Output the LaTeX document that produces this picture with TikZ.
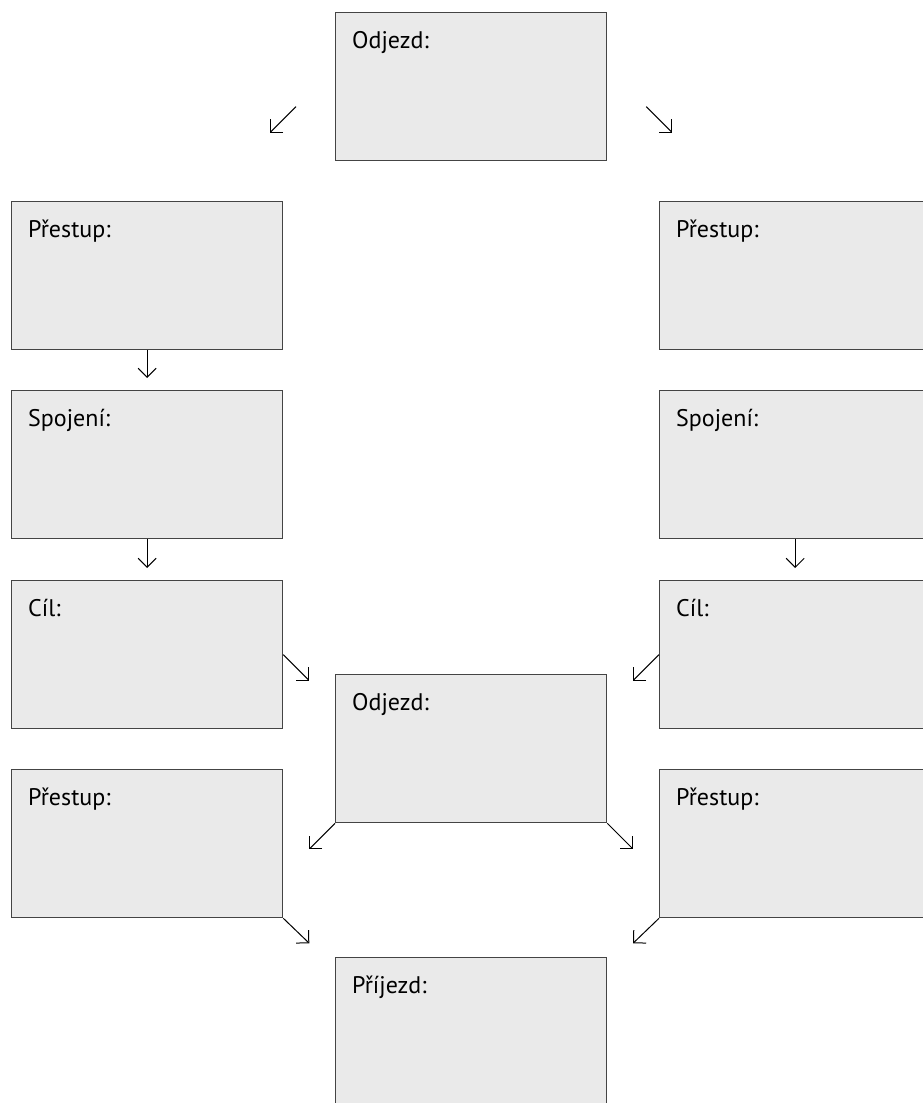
\documentclass[tikz,border=0pt]{standalone}
\usepackage{fontspec}
\setmainfont{PT Sans}
\usetikzlibrary{arrows.meta}

\definecolor{boxfill}{HTML}{EAEAEA}
\definecolor{boxline}{HTML}{444444}

\tikzset{
	stop/.style={draw=boxline, fill=boxfill, line width=1.3pt, inner sep=0pt,
		minimum width=271pt, minimum height=148pt, anchor=north west,
		label={[anchor=base west, inner sep=0pt, xshift=17pt, yshift=-36pt,
			font=\fontsize{24}{28}\selectfont]north west:#1}},
	arr/.style={-{Straight Barb[length=9pt, width=18pt, line width=1pt]}, line width=1pt, black}
}

\begin{document}
\begin{tikzpicture}[x=1pt, y=-1pt]
				\useasboundingbox (0,0) rectangle (923,1103);
				
				% start
				\node[stop={Odjezd:}] (odjezdA) at (335,12) {};
				
				% left branch
				\node[stop={Přestup:}] (prestupL) at (11,201) {};
				\node[stop={Spojení:}] (spojeniL) at (11,390) {};
				\node[stop={Cíl:}] (cilL) at (11,580) {};
				\node[stop={Přestup:}] (prestupLL) at (11,769) {};
				
				% right branch
				\node[stop={Přestup:}] (prestupR) at (659,201) {};
				\node[stop={Spojení:}] (spojeniR) at (659,390) {};
				\node[stop={Cíl:}] (cilR) at (659,580) {};
				\node[stop={Přestup:}] (prestupRR) at (659,769) {};
				
				% second departure and arrival
				\node[stop={Odjezd:}] (odjezdB) at (335,674) {};
				\node[stop={Příjezd:}] (prijezd) at (335,957) {};
				
				% arrows
				\draw[arr] ([shift={(-39,20)}]odjezdA.west) -- ++(-26,26);
				\draw[arr] ([shift={(39,20)}]odjezdA.east) -- ++(26,26);
				\draw[arr, shorten >=12pt] (prestupL) -- (spojeniL);
				\draw[arr, shorten >=12pt] (spojeniL) -- (cilL);
				\draw[arr, shorten >=12pt] (spojeniR) -- (cilR);
				\draw[arr] (cilL.east) -- ++(26,26);
				\draw[arr] (cilR.west) -- ++(-26,26);
				\draw[arr] (odjezdB.south west) -- ++(-26,26);
				\draw[arr] (odjezdB.south east) -- ++(26,26);
				\draw[arr] (prestupLL.south east) -- ++(26,25);
				\draw[arr] (prestupRR.south west) -- ++(-26,25);
\end{tikzpicture}
\end{document}
